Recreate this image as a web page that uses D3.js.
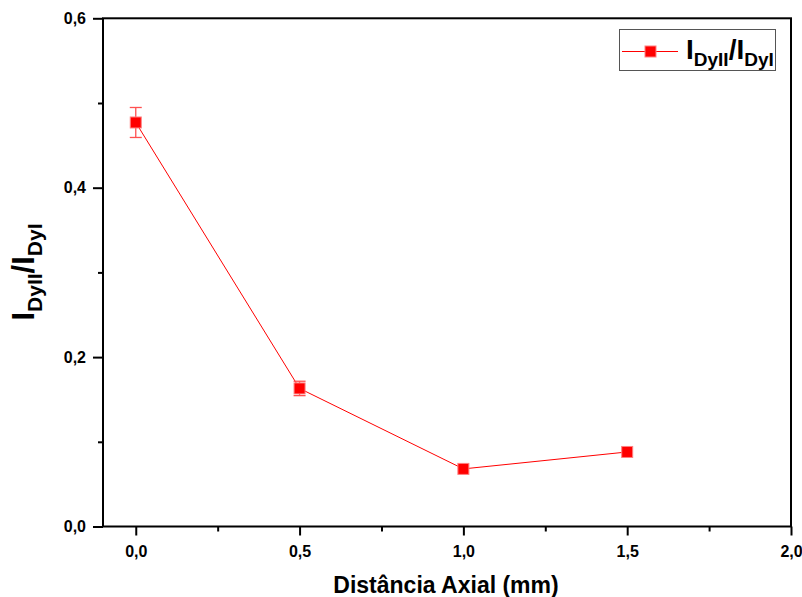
<!DOCTYPE html>
<html>
<head>
<meta charset="utf-8">
<script src="https://cdn.jsdelivr.net/npm/d3@7"></script>
<style>
	body { margin: 0; background: #fff; }
	svg { font-family: "Liberation Sans", Arial, sans-serif; }
	.tick text { font-size: 16px; font-weight: bold; font-family: "Liberation Sans", Arial, sans-serif; }
</style>
</head>
<body>
<svg width="802" height="597"></svg>
<script>
// data
var distances = [0.0, 0.5, 1.0, 1.5];
var ratios = [0.477, 0.163, 0.068, 0.088];
var errors = [0.0177, 0.0085, 0, 0];

var xMajorTicks = [0.0, 0.5, 1.0, 1.5, 2.0];
var xMinorTicks = [0.25, 0.75, 1.25, 1.75];
var yMajorTicks = [0.0, 0.2, 0.4, 0.6];
var yMinorTicks = [0.1, 0.3, 0.5];

var svg = d3.select("svg");

var x = d3.scaleLinear().domain([-0.1, 2.0]).range([103, 791]);
var y = d3.scaleLinear().domain([0, 0.6]).range([526.5, 18.3]);

function commaFmt(d) { return d3.format(".1f")(d).replace(".", ","); }

// frame
svg.append("rect")
	.attr("x", x(-0.1))
	.attr("y", y(0.6))
	.attr("width", x(2.0) - x(-0.1))
	.attr("height", y(0) - y(0.6))
	.attr("fill", "none")
	.attr("stroke", "#000")
	.attr("stroke-width", 2);

// bottom axis
var xg = svg.append("g")
	.attr("transform", "translate(0," + y(0) + ")")
	.call(d3.axisBottom(x).tickValues(xMajorTicks).tickSize(9).tickPadding(10).tickFormat(commaFmt));
var xm = svg.append("g")
	.attr("transform", "translate(0," + y(0) + ")")
	.call(d3.axisBottom(x).tickValues(xMinorTicks).tickSize(5).tickFormat(""));

// left axis
var yg = svg.append("g")
	.attr("transform", "translate(" + x(-0.1) + ",0)")
	.call(d3.axisLeft(y).tickValues(yMajorTicks).tickSize(10).tickPadding(7).tickFormat(commaFmt));
var ym = svg.append("g")
	.attr("transform", "translate(" + x(-0.1) + ",0)")
	.call(d3.axisLeft(y).tickValues(yMinorTicks).tickSize(5).tickFormat(""));

[xg, xm, yg, ym].forEach(function(g) {
	g.select(".domain").remove();
	g.selectAll("line").attr("stroke", "#000").attr("stroke-width", 2);
	g.selectAll("text").attr("fill", "#000");
});

// line
var pts = distances.map(function(d, i) { return [d, ratios[i], errors[i]]; });

svg.append("path")
	.datum(pts)
	.attr("fill", "none")
	.attr("stroke", "#ff0000")
	.attr("stroke-width", 1)
	.attr("d", d3.line().x(function(d) { return x(d[0]); }).y(function(d) { return y(d[1]); }));

// error bars
var eb = svg.append("g")
	.attr("stroke", "#ff5050")
	.attr("stroke-width", 1.3);
pts.forEach(function(d) {
	if (d[2] <= 0) { return; }
	var cx = x(d[0]);
	eb.append("line").attr("x1", cx).attr("x2", cx).attr("y1", y(d[1] - d[2])).attr("y2", y(d[1] + d[2]));
	eb.append("line").attr("x1", cx - 6).attr("x2", cx + 6).attr("y1", y(d[1] + d[2])).attr("y2", y(d[1] + d[2]));
	eb.append("line").attr("x1", cx - 6).attr("x2", cx + 6).attr("y1", y(d[1] - d[2])).attr("y2", y(d[1] - d[2]));
});

// markers
svg.append("g").selectAll("rect")
	.data(pts)
	.enter().append("rect")
		.attr("x", function(d) { return x(d[0]) - 5.5; })
		.attr("y", function(d) { return y(d[1]) - 5.5; })
		.attr("width", 11)
		.attr("height", 11)
		.attr("fill", "#ff0000")
		.attr("stroke", "#ff8080")
		.attr("stroke-width", 1);

// legend
var lg = svg.append("g");
lg.append("rect")
	.attr("x", 619.5).attr("y", 29.5)
	.attr("width", 156).attr("height", 41)
	.attr("fill", "#fff")
	.attr("stroke", "#555")
	.attr("stroke-width", 1);
lg.append("line")
	.attr("x1", 622).attr("x2", 678).attr("y1", 51.5).attr("y2", 51.5)
	.attr("stroke", "#ff0000").attr("stroke-width", 1);
lg.append("rect")
	.attr("x", 645).attr("y", 46).attr("width", 11).attr("height", 11)
	.attr("fill", "#ff0000").attr("stroke", "#ff8080");

function ratioLabel(big, small, shift) {
	return function(t) {
		t.attr("font-weight", "bold").attr("fill", "#000");
		t.append("tspan").attr("font-size", big).text("I");
		t.append("tspan").attr("font-size", small).attr("dy", shift).text("DyII");
		t.append("tspan").attr("font-size", big).attr("dy", -shift).text("/I");
		t.append("tspan").attr("font-size", small).attr("dy", shift).text("DyI");
	};
}

lg.append("text").attr("x", 686).attr("y", 59).call(ratioLabel(28, 19, 7));

// axis titles
svg.append("text")
	.attr("transform", "translate(34,272) rotate(-90)")
	.attr("text-anchor", "middle")
	.call(ratioLabel(31, 21, 8));

svg.append("text")
	.attr("x", 446)
	.attr("y", 593)
	.attr("text-anchor", "middle")
	.attr("font-size", 23)
	.attr("font-weight", "bold")
	.attr("fill", "#000")
	.text("Distância Axial (mm)");
</script>
</body>
</html>
